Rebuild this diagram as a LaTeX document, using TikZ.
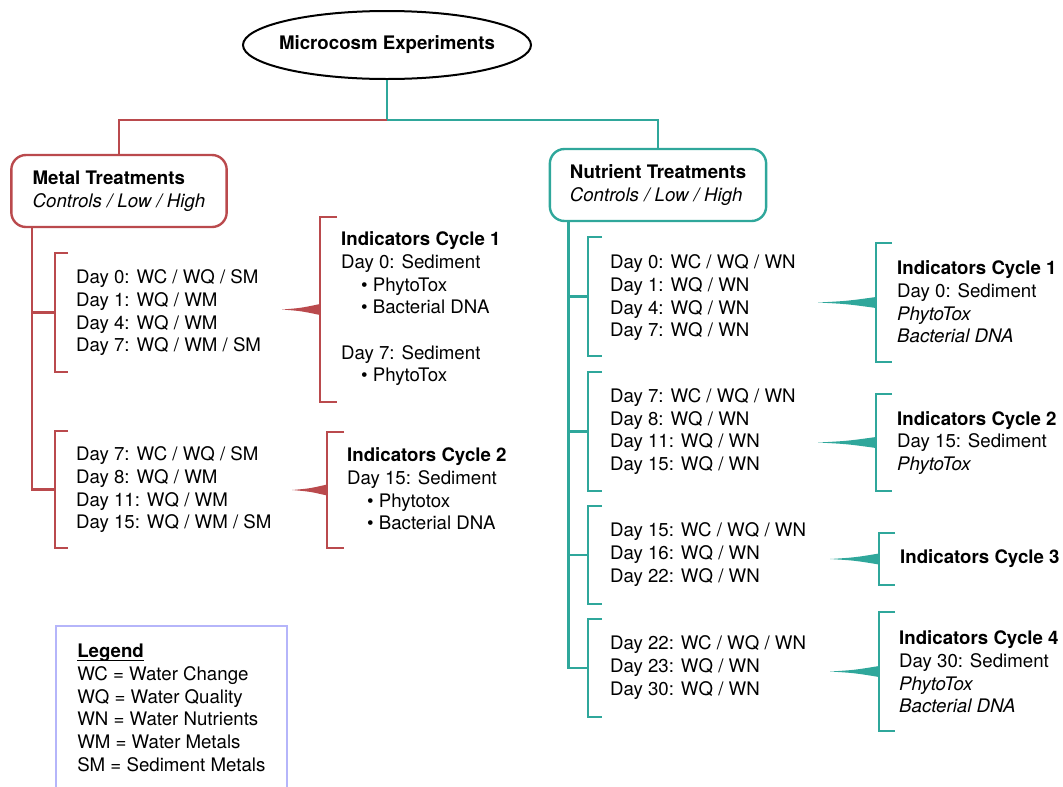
\documentclass[tikz,border=0pt]{standalone}
\usepackage{fontspec}
\setmainfont{TeX Gyre Heros}
\usetikzlibrary{shapes.geometric}
\definecolor{metalred}{HTML}{BA4A4D}
\definecolor{nutteal}{HTML}{2FA79B}
\definecolor{legendblue}{HTML}{B5B5FA}
\newcommand{\ulbase}[1]{\setbox0\hbox{#1}\rlap{\rule[-2.2pt]{\wd0}{1pt}}\box0}

\begin{document}
\begin{tikzpicture}[x=0.75pt, y=-0.75pt, line width=1.8pt,
  every node/.style={font=\fontsize{14}{17}\selectfont},
  root node/.style={ellipse, draw=black, line width=1.5pt, inner xsep=-12pt, minimum width=216pt, minimum height=51pt, font=\fontsize{14}{17}\selectfont\bfseries},
  treat node/.style={draw, rounded corners=11pt, minimum height=54pt, inner xsep=16pt, align=left},
  day node/.style={anchor=west, align=left, inner sep=0pt},
  legend node/.style={draw=legendblue, line width=1.5pt, anchor=north west, minimum height=123pt, minimum width=173pt, align=left}]
\useasboundingbox (0,0) rectangle (1063,786);

% top of the tree
\node[root node] (root) at (387,45) {Microcosm Experiments};
\node[treat node, draw=metalred] (metal) at (119,191) {\textbf{Metal Treatments}\\\textit{Controls / Low / High}};
\node[treat node, draw=nutteal, inner xsep=15pt] (nutrient) at (658,185) {\textbf{Nutrient Treatments}\\\textit{Controls / Low / High}};
\coordinate (split) at (387,120);
\draw[nutteal] (root.south) -- (split) -| (nutrient.north);
\draw[metalred] (split) -| (metal.north);

% metal treatments
\foreach \t/\b/\n in {253/372/m1, 431/548/m2}{
  \draw[metalred] (68,\t) -- (55,\t) -- (55,\b) -- (68,\b);
  \coordinate (\n) at (55,{(\t+\b)/2});
}
\draw[metalred] ([xshift=16.5pt]metal.south west) coordinate (mtop) |- (m2);
\draw[metalred] (mtop |- m1) -- (m1);

\node[day node] (md1) at (75,313) {Day 0: WC / WQ / SM\\Day 1: WQ / WM\\Day 4: WQ / WM\\Day 7: WQ / WM / SM};
\node[day node] (md2) at (75,490) {Day 7: WC / WQ / SM\\Day 8: WQ / WM\\Day 11: WQ / WM\\Day 15: WQ / WM / SM};

\foreach \x/\t/\b/\n/\l in {320/217/402/mi1/38, 327/432/548/mi2/35}{
  \draw[metalred] (\x+17,\t) -- (\x,\t) -- (\x,\b) -- (\x+17,\b);
  \coordinate (\n) at (\x,{(\t+\b)/2});
  \fill[metalred, shift={(\n)}] (-\l,0) .. controls (-\l/2,-1.5) .. (0,-5.5) -- (0,5.5) .. controls (-\l/2,1.5) .. (-\l,0) -- cycle;
}

\node[day node] (mc1) at (340,309) {\textbf{Indicators Cycle 1}\\Day 0: Sediment\\\hspace*{15pt}\textbullet\ PhytoTox\\\hspace*{15pt}\textbullet\ Bacterial DNA\\[17pt]Day 7: Sediment\\\hspace*{15pt}\textbullet\ PhytoTox};
\node[day node] (mc2) at (346,489) {\textbf{Indicators Cycle 2}\\Day 15: Sediment\\\hspace*{15pt}\textbullet\ Phytotox\\\hspace*{15pt}\textbullet\ Bacterial DNA};

% nutrient treatments
\foreach \t/\b/\n in {237/356/n1, 372/491/n2, 506/604/n3, 619/717/n4}{
  \draw[nutteal] (602,\t) -- (588,\t) -- (588,\b) -- (602,\b);
  \coordinate (\n) at (588,{(\t+\b)/2});
}
\draw[nutteal] ([xshift=15pt]nutrient.south west) coordinate (ntop) |- (n4);
\foreach \n in {n1,n2,n3}
  \draw[nutteal] (ntop |- \n) -- (\n);

\node[day node] (nd1) at (609,298) {Day 0: WC / WQ / WN\\Day 1: WQ / WN\\Day 4: WQ / WN\\Day 7: WQ / WN};
\node[day node] (nd2) at (609,431.5) {Day 7: WC / WQ / WN\\Day 8: WQ / WN\\Day 11: WQ / WN\\Day 15: WQ / WN};
\node[day node] (nd3) at (609,554.5) {Day 15: WC / WQ / WN\\Day 16: WQ / WN\\Day 22: WQ / WN};
\node[day node] (nd4) at (609,667.5) {Day 22: WC / WQ / WN\\Day 23: WQ / WN\\Day 30: WQ / WN};

\foreach \x/\t/\b/\n/\l in {876/243/362/ni1/58, 876/394/491/ni2/58, 879/533/585/ni3/49, 879/612/731/ni4/49}{
  \draw[nutteal] (\x+16,\t) -- (\x,\t) -- (\x,\b) -- (\x+16,\b);
  \coordinate (\n) at (\x,{(\t+\b)/2});
  \fill[nutteal, shift={(\n)}] (-\l,0) .. controls (-\l/2,-1.5) .. (0,-5.5) -- (0,5.5) .. controls (-\l/2,1.5) .. (-\l,0) -- cycle;
}

\node[day node] (nc1) at (896,302) {\textbf{Indicators Cycle 1}\\Day 0: Sediment\\\textit{PhytoTox}\\\textit{Bacterial DNA}};
\node[day node] (nc2) at (896,443) {\textbf{Indicators Cycle 2}\\Day 15: Sediment\\\textit{PhytoTox}};
\node[day node] (nc3) at (899,559) {\textbf{Indicators Cycle 3}};
\node[day node] (nc4) at (898,672) {\textbf{Indicators Cycle 4}\\Day 30: Sediment\\\textit{PhytoTox}\\\textit{Bacterial DNA}};

% legend
\node[legend node] (legend) at (55,625) {\ulbase{\textbf{Legend}}\\WC = Water Change\\WQ = Water Quality\\WN = Water Nutrients\\WM = Water Metals\\SM = Sediment Metals};
\end{tikzpicture}
\end{document}
